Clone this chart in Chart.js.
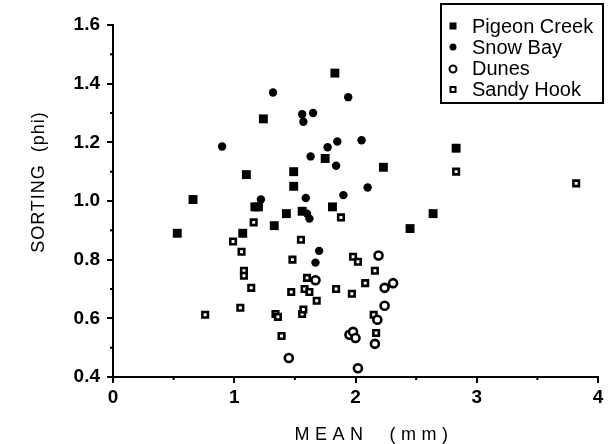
<!DOCTYPE html>
<html>
<head>
<meta charset="utf-8">
<script src="https://cdn.jsdelivr.net/npm/chart.js@4.4.1/dist/chart.umd.min.js"></script>
<style>
  html, body { margin: 0; padding: 0; background: #fff; }
</style>
</head>
<body>
<canvas id="chart" width="609" height="444"></canvas>
<script>
// series names (legend order)
const seriesNames = ['Pigeon Creek', 'Snow Bay', 'Dunes', 'Sandy Hook'];

// Pigeon Creek - filled squares
const pigeonMean    = [0.53, 0.66, 1.07, 1.10, 1.17, 1.20, 1.24, 1.33, 1.43, 1.49, 1.49, 1.56, 1.75, 1.81, 1.83, 2.23, 2.45, 2.64, 2.83];
const pigeonSorting = [0.89, 1.005, 0.89, 1.09, 0.98, 0.98, 1.28, 0.916, 0.957, 1.10, 1.05, 0.965, 1.145, 0.98, 1.436, 1.115, 0.906, 0.957, 1.18];

// Snow Bay - filled circles
const snowMean    = [0.90, 1.22, 1.32, 1.56, 1.57, 1.59, 1.60, 1.62, 1.63, 1.65, 1.67, 1.70, 1.77, 1.84, 1.85, 1.90, 1.94, 2.05, 2.10];
const snowSorting = [1.186, 1.005, 1.37, 1.296, 1.27, 1.01, 0.957, 0.94, 1.152, 1.30, 0.79, 0.83, 1.183, 1.12, 1.203, 1.02, 1.354, 1.207, 1.046];

// Dunes - open circles
const dunesMean    = [1.45, 1.67, 1.95, 1.98, 2.00, 2.02, 2.16, 2.18, 2.19, 2.24, 2.24, 2.31];
const dunesSorting = [0.465, 0.73, 0.544, 0.554, 0.533, 0.43, 0.513, 0.595, 0.814, 0.704, 0.643, 0.72];

// Sandy Hook - open squares
const sandyMean    = [0.76, 0.99, 1.05, 1.06, 1.08, 1.08, 1.14, 1.16, 1.34, 1.36, 1.39, 1.47, 1.48, 1.55, 1.56, 1.57, 1.58, 1.60, 1.62, 1.68, 1.84, 1.88, 1.97, 1.98, 2.02, 2.08, 2.15, 2.16, 2.17, 2.83, 3.82];
const sandySorting = [0.612, 0.862, 0.636, 0.827, 0.762, 0.745, 0.704, 0.927, 0.615, 0.605, 0.54, 0.69, 0.80, 0.868, 0.615, 0.63, 0.70, 0.738, 0.69, 0.66, 0.70, 0.944, 0.684, 0.81, 0.793, 0.72, 0.612, 0.762, 0.55, 1.10, 1.06];

// axis ticks
const xTicks = [0, 1, 2, 3, 4];
const yTicks = [0.4, 0.6, 0.8, 1.0, 1.2, 1.4, 1.6];
const xMinor = [0.5, 1.5, 2.5, 3.5];
const yMinor = [0.5, 0.7, 0.9, 1.1, 1.3, 1.5];

const xTitle = 'MEAN  (mm)';
const yTitle = 'SORTING  (phi)';

const FONT = '"Liberation Sans", Arial, Helvetica, sans-serif';

const pts = (xs, ys) => xs.map((x, i) => ({ x: x, y: ys[i] }));

// titles, minor ticks and boxed legend
const extras = {
  id: 'extras',
  afterDraw(chart) {
    const ctx = chart.ctx;
    const xs = chart.scales.x, ys = chart.scales.y;
    const area = chart.chartArea;
    ctx.save();
    ctx.strokeStyle = '#000';
    ctx.fillStyle = '#000';
    ctx.lineWidth = 2;

    yMinor.forEach(v => {
      const py = ys.getPixelForValue(v);
      ctx.beginPath();
      ctx.moveTo(area.left - 3, py);
      ctx.lineTo(area.left, py);
      ctx.stroke();
    });
    xMinor.forEach(v => {
      const px = xs.getPixelForValue(v);
      ctx.beginPath();
      ctx.moveTo(px, area.bottom);
      ctx.lineTo(px, area.bottom + 3);
      ctx.stroke();
    });

    // axis titles
    ctx.font = '18px ' + FONT;
    ctx.textAlign = 'center';
    ctx.textBaseline = 'alphabetic';
    ctx.letterSpacing = '5.5px';
    ctx.fillText(xTitle, 374, 440);
    ctx.letterSpacing = '1px';
    ctx.save();
    ctx.translate(44, 182);
    ctx.rotate(-Math.PI / 2);
    ctx.fillText(yTitle, 0, 0);
    ctx.restore();
    ctx.letterSpacing = '0px';

    // legend box
    ctx.lineWidth = 2;
    ctx.strokeRect(441, 4, 162, 99);
    const rowY = [26, 47, 68, 89];
    ctx.font = '20px ' + FONT;
    ctx.textAlign = 'left';
    ctx.textBaseline = 'middle';
    seriesNames.forEach((name, i) => {
      const y = rowY[i], x = 453;
      ctx.lineWidth = 2;
      if (i === 0) {
        ctx.fillRect(x - 3.5, y - 3.5, 7, 7);
      } else if (i === 1) {
        ctx.beginPath(); ctx.arc(x, y, 3.5, 0, Math.PI * 2); ctx.fill();
      } else if (i === 2) {
        ctx.beginPath(); ctx.arc(x, y + 1, 3.5, 0, Math.PI * 2); ctx.stroke();
      } else {
        ctx.strokeRect(x - 2.5, y - 2, 5, 5);
      }
      ctx.fillText(name, 472, y + 1);
    });
    ctx.restore();
  }
};

new Chart(document.getElementById('chart'), {
  type: 'scatter',
  data: {
    datasets: [
      {
        label: seriesNames[0],
        data: pts(pigeonMean, pigeonSorting),
        pointStyle: 'rect', pointRadius: 6.3, borderWidth: 0,
        backgroundColor: '#000', borderColor: '#000'
      },
      {
        label: seriesNames[1],
        data: pts(snowMean, snowSorting),
        pointStyle: 'circle', pointRadius: 4.2, borderWidth: 0,
        backgroundColor: '#000', borderColor: '#000'
      },
      {
        label: seriesNames[2],
        data: pts(dunesMean, dunesSorting),
        pointStyle: 'circle', pointRadius: 4, borderWidth: 2.6,
        backgroundColor: '#fff', borderColor: '#000'
      },
      {
        label: seriesNames[3],
        data: pts(sandyMean, sandySorting),
        pointStyle: 'rect', pointRadius: 3.9, borderWidth: 2.6,
        backgroundColor: '#fff', borderColor: '#000'
      }
    ]
  },
  options: {
    responsive: false,
    animation: false,
    layout: { padding: { left: 0, top: 25, right: 11, bottom: 0 } },
    plugins: {
      legend: { display: false },
      tooltip: { enabled: false }
    },
    scales: {
      x: {
        type: 'linear', min: 0, max: 4,
        afterFit: s => { s.height = 67; },
        afterBuildTicks: s => { s.ticks = xTicks.map(v => ({ value: v })); },
        ticks: { color: '#000', padding: 3, font: { family: FONT, size: 19, weight: 'bold' } },
        grid: { drawOnChartArea: false, tickLength: 6, color: '#000', lineWidth: 2 },
        border: { color: '#000', width: 2 }
      },
      y: {
        type: 'linear', min: 0.4, max: 1.6,
        afterFit: s => { s.width = 113; },
        afterBuildTicks: s => { s.ticks = yTicks.map(v => ({ value: v })); },
        ticks: {
          color: '#000', padding: 7,
          font: { family: FONT, size: 19, weight: 'bold' },
          callback: v => v.toFixed(1)
        },
        grid: { drawOnChartArea: false, tickLength: 6, color: '#000', lineWidth: 2 },
        border: { color: '#000', width: 2 }
      }
    }
  },
  plugins: [extras]
});
</script>
</body>
</html>
